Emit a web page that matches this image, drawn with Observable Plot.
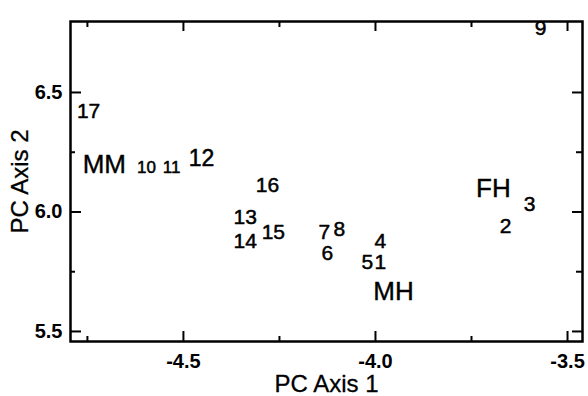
<!DOCTYPE html>
<html>
<head>
<meta charset="utf-8">
<script src="https://cdn.jsdelivr.net/npm/d3@7"></script>
<script src="https://cdn.jsdelivr.net/npm/@observablehq/plot@0.6"></script>
<style>
  html, body { margin: 0; padding: 0; background: white; }
</style>
</head>
<body>
<div id="chart"></div>
<script>
// Sample labels and their PC scores
const sampleIds = ["1","2","3","4","5","6","7","8","9","10","11","12","13","14","15","16","17"];
const pc1 = [-3.987,-3.661,-3.599,-3.987,-4.021,-4.125,-4.133,-4.094,-3.570,-4.596,-4.531,-4.453,-4.339,-4.339,-4.266,-4.281,-4.747];
const pc2 = [5.789,5.939,6.031,5.877,5.789,5.826,5.917,5.927,6.768,6.186,6.186,6.224,5.979,5.877,5.914,6.111,6.420];

// Group labels
const groupNames = ["MM","MH","FH"];
const groupPc1 = [-4.706,-3.953,-3.693];
const groupPc2 = [6.199,5.667,6.098];

// Axis ticks
const xMajor = [-4.5, -4.0, -3.5];
const xMinor = [-4.75, -4.25, -3.75];
const yMajor = [5.5, 6.0, 6.5];
const yMinor = [5.75, 6.25];
const xDomain = [-4.794, -3.461];
const yDomain = [5.458, 6.797];

const samples = sampleIds.map((id, i) => ({id, x: pc1[i], y: pc2[i]}));
const groups = groupNames.map((name, i) => ({name, x: groupPc1[i], y: groupPc2[i]}));

const W = 588, H = 396, mL = 70, mR = 6, mT = 21, mB = 55;
const fw = W - mL - mR, fh = H - mT - mB;

const font = "'Liberation Sans', Arial, Helvetica, sans-serif";
const fmt = d => d.toFixed(1);
const ink = {fill: "black", stroke: "black", strokeWidth: 0.5};
const tk = {stroke: "black", strokeWidth: 2};

const chart = Plot.plot({
  width: W,
  height: H,
  marginLeft: mL,
  marginRight: mR,
  marginTop: mT,
  marginBottom: mB,
  x: {domain: xDomain},
  y: {domain: yDomain},
  style: {fontFamily: font, background: "white", color: "black"},
  marks: [
    // inward tick marks on all four sides
    Plot.tickX(xMajor, {x: d => d, ...tk, insetTop: fh - 10}),
    Plot.tickX(xMinor, {x: d => d, ...tk, insetTop: fh - 5}),
    Plot.tickX(xMajor, {x: d => d, ...tk, insetBottom: fh - 10}),
    Plot.tickX(xMinor, {x: d => d, ...tk, insetBottom: fh - 6}),
    Plot.tickY(yMajor, {y: d => d, ...tk, insetRight: fw - 11}),
    Plot.tickY(yMinor, {y: d => d, ...tk, insetRight: fw - 5}),
    Plot.tickY(yMajor, {y: d => d, ...tk, insetLeft: fw - 10}),
    Plot.tickY(yMinor, {y: d => d, ...tk, insetLeft: fw - 6}),
    // tick labels
    Plot.axisX(xMajor, {anchor: "bottom", tickSize: 0, tickPadding: 12, fontSize: 20, fontWeight: "bold", tickFormat: fmt, label: null}),
    Plot.axisY(yMajor, {anchor: "left", tickSize: 0, tickPadding: 8, fontSize: 20, fontWeight: "bold", tickFormat: fmt, label: null}),
    // axis titles
    Plot.text(["PC Axis 1"], {frameAnchor: "bottom", textAnchor: "middle", lineAnchor: "middle", dy: 43, fontSize: 24, ...ink, strokeWidth: 0.3}),
    Plot.text(["PC Axis 2"], {frameAnchor: "left", textAnchor: "middle", lineAnchor: "middle", dx: -50, rotate: -90, fontSize: 24, ...ink, strokeWidth: 0.3}),
    // frame
    Plot.frame({stroke: "black", strokeWidth: 2.5}),
    // sample numbers
    Plot.text(samples, {x: "x", y: "y", text: "id", ...ink,
      fontSize: d => (d.id === "10" || d.id === "11") ? 17 : (d.id === "12" ? 23 : 21)}),
    // group labels
    Plot.text(groups, {x: "x", y: "y", text: "name", ...ink, strokeWidth: 0.4, fontSize: 26})
  ]
});

document.getElementById("chart").appendChild(chart);
</script>
</body>
</html>
